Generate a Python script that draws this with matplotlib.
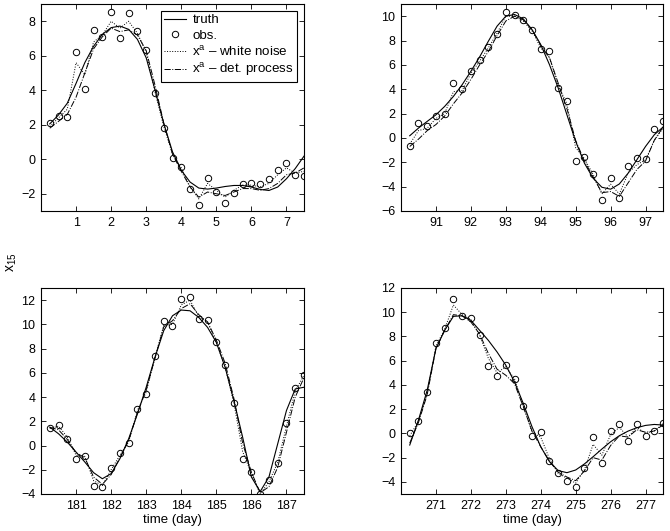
import numpy as np
import matplotlib
matplotlib.use("Agg")
import matplotlib.pyplot as plt

plt.rcParams['font.family'] = ['Liberation Sans', 'DejaVu Sans']
plt.rcParams['mathtext.fontset'] = 'custom'
plt.rcParams['mathtext.rm'] = 'Liberation Sans'
plt.rcParams['mathtext.it'] = 'Liberation Sans'

# ---- data (observation times every 0.25 day) ----
start_tl, start_tr, start_bl, start_br = 0.0, 90.0, 180.0, 270.0
xlim_span = 7.5

obs_tl = [2.10, 2.53, 2.47, 6.23, 4.09, 7.49, 7.10, 8.54, 7.02, 8.46, 7.41, 6.32, 3.83, 1.81, 0.10,
          -0.43, -1.73, -2.67, -1.09, -1.87, -2.53, -1.95, -1.42, -1.36, -1.42, -1.15, -0.62, -0.21, -0.89, -0.97]
truth_tl = [2.05, 2.57, 3.25, 4.40, 5.60, 6.55, 7.24, 7.63, 7.72, 7.53, 6.95, 5.88, 4.03, 2.08, 0.43,
            -0.64, -1.32, -1.67, -1.73, -1.67, -1.58, -1.52, -1.52, -1.61, -1.75, -1.81, -1.61, -1.13, -0.54, 0.18]
wn_tl = [1.90, 2.40, 2.90, 5.60, 4.90, 6.80, 7.20, 8.00, 7.60, 8.00, 7.30, 6.20, 3.90, 1.90, 0.30,
         -0.50, -1.60, -2.30, -1.40, -1.80, -2.20, -1.80, -1.50, -1.50, -1.60, -1.40, -0.90, -0.50, -0.80, -0.70]
dp_tl = [1.80, 2.20, 2.60, 3.60, 5.00, 6.40, 7.10, 7.60, 7.40, 7.50, 7.20, 6.30, 4.30, 2.10, 0.30,
         -0.70, -1.60, -2.20, -1.90, -2.00, -2.10, -1.90, -1.70, -1.70, -1.80, -1.70, -1.40, -0.90, -0.80, -0.50]

obs_tr = [-0.65, 1.22, 0.94, 1.79, 1.99, 4.51, 3.99, 5.47, 6.43, 7.48, 8.57, 10.33, 10.11, 9.70, 8.87,
          7.28, 7.12, 4.07, 3.03, -1.86, -1.55, -2.95, -5.09, -3.25, -4.96, -2.27, -1.61, -1.69, 0.72, 1.36]
truth_tr = [0.18, 0.81, 1.36, 1.90, 2.59, 3.41, 4.37, 5.47, 6.65, 7.94, 9.18, 10.00, 10.14, 9.78, 8.90,
            7.67, 6.02, 4.10, 1.90, -0.29, -2.07, -3.31, -4.05, -4.21, -3.78, -2.90, -1.80, -0.70, 0.26, 0.89]
wn_tr = [-0.50, 0.60, 0.80, 1.60, 2.00, 3.80, 3.90, 5.30, 6.30, 7.40, 8.60, 10.00, 10.00, 9.60, 8.80,
         7.40, 6.60, 4.30, 2.80, -0.80, -1.70, -3.00, -4.60, -3.80, -4.60, -2.90, -2.20, -1.80, -0.20, 0.80]
dp_tr = [-0.70, -0.10, 0.60, 1.10, 1.80, 2.80, 3.70, 4.80, 6.00, 7.10, 8.40, 9.60, 10.00, 9.70, 8.90,
         7.60, 6.60, 4.50, 2.40, -0.20, -1.90, -3.20, -4.50, -4.40, -4.80, -3.70, -2.60, -1.90, -0.20, 0.90]

obs_bl = [1.46, 1.68, 0.56, -1.09, -0.90, -3.31, -3.45, -1.89, -0.65, 0.20, 3.03, 4.26, 7.42, 10.24, 9.89,
          12.11, 12.25, 10.41, 10.35, 8.54, 6.62, 3.47, -1.14, -2.16, -4.00, -2.85, -1.45, 1.90, 4.73, 5.83]
truth_bl = [1.52, 0.97, 0.28, -0.54, -1.36, -2.24, -2.74, -2.32, -1.09, 0.56, 2.61, 4.81, 7.28, 9.48, 10.71,
            11.18, 11.12, 10.57, 9.75, 8.51, 6.46, 3.71, 0.69, -2.60, -3.80, -2.60, 0.14, 2.89, 4.67, 4.81]
wn_bl = [1.40, 1.60, 0.70, -0.80, -0.90, -2.90, -3.30, -2.00, -0.80, 0.30, 2.90, 4.40, 7.30, 9.90, 10.00,
         11.60, 12.00, 10.60, 10.20, 8.50, 6.50, 3.50, -0.50, -2.30, -4.00, -3.00, -1.40, 1.60, 4.50, 5.80]
dp_bl = [1.50, 1.30, 0.50, -0.60, -1.00, -2.60, -3.20, -2.40, -1.00, 0.40, 2.70, 4.60, 7.20, 9.80, 10.30,
         11.30, 11.70, 10.80, 10.20, 8.70, 6.80, 3.90, 0.20, -2.20, -3.90, -3.40, -1.80, 1.10, 4.00, 5.60]

obs_br = [0.03, 1.04, 3.38, 7.49, 8.70, 11.09, 9.71, 9.55, 8.15, 5.60, 4.75, 5.65, 4.53, 2.25, -0.19,
          0.08, -2.25, -3.27, -3.95, -4.45, -2.88, -0.30, -2.41, 0.19, 0.80, -0.60, 0.80, -0.22, 0.19, 0.85]
truth_br = [-0.96, 1.10, 3.57, 7.00, 8.51, 9.66, 9.71, 9.33, 8.51, 7.68, 6.72, 5.63, 4.25, 2.47, 0.55,
            -1.10, -2.33, -3.07, -3.24, -3.02, -2.52, -1.92, -1.29, -0.69, -0.19, 0.19, 0.47, 0.66, 0.74, 0.69]
wn_br = [-0.20, 1.00, 3.30, 7.20, 8.60, 10.60, 9.80, 9.40, 8.10, 6.20, 5.00, 5.50, 4.50, 2.30, 0.10,
         -0.30, -2.10, -3.30, -3.70, -4.10, -3.00, -0.90, -1.80, -0.10, 0.50, -0.30, 0.50, 0.00, 0.20, 0.80]
dp_br = [-0.80, 0.90, 3.20, 7.00, 8.50, 9.80, 9.70, 9.20, 8.20, 6.60, 5.30, 4.80, 4.10, 2.20, 0.20,
         -1.10, -2.30, -3.20, -3.60, -3.90, -3.10, -2.00, -2.20, -1.00, -0.20, -0.30, 0.30, 0.10, 0.20, 0.70]

panels = [
    dict(start=start_tl, obs=obs_tl, truth=truth_tl, wn=wn_tl, dp=dp_tl, ylim=(-3, 9),
         yticks=[-2, 0, 2, 4, 6, 8], xticks=[1, 2, 3, 4, 5, 6, 7]),
    dict(start=start_tr, obs=obs_tr, truth=truth_tr, wn=wn_tr, dp=dp_tr, ylim=(-6, 11),
         yticks=[-6, -4, -2, 0, 2, 4, 6, 8, 10], xticks=[91, 92, 93, 94, 95, 96, 97]),
    dict(start=start_bl, obs=obs_bl, truth=truth_bl, wn=wn_bl, dp=dp_bl, ylim=(-4, 13),
         yticks=[-4, -2, 0, 2, 4, 6, 8, 10, 12], xticks=[181, 182, 183, 184, 185, 186, 187]),
    dict(start=start_br, obs=obs_br, truth=truth_br, wn=wn_br, dp=dp_br, ylim=(-5, 12),
         yticks=[-4, -2, 0, 2, 4, 6, 8, 10, 12], xticks=[271, 272, 273, 274, 275, 276, 277]),
]

W, H = 670, 531
fig = plt.figure(figsize=(W / 100, H / 100), dpi=100)
rects = [
    (41, 4, 304, 211),
    (401, 4, 663, 211),
    (41, 288, 304, 494),
    (401, 288, 663, 494),
]

fs = 9
for i, (p, r) in enumerate(zip(panels, rects)):
    x0, y0, x1, y1 = r
    ax = fig.add_axes([x0 / W, 1 - y1 / H, (x1 - x0) / W, (y1 - y0) / H])
    t = p['start'] + 0.25 * np.arange(1, len(p['obs']) + 1)
    ax.plot(t, p['truth'], '-', color='black', lw=0.8, label='truth')
    ax.plot(t, p['obs'], 'o', mfc='none', mec='black', mew=0.7, ms=4.6, label='obs.')
    ax.plot(t, p['wn'], ':', color='black', lw=0.7, label=r'x$^{\mathregular{a}}$ – white noise')
    ax.plot(t, p['dp'], '-.', color='black', lw=0.7, label=r'x$^{\mathregular{a}}$ – det. process')
    ax.set_xlim(p['start'], p['start'] + xlim_span)
    ax.set_ylim(*p['ylim'])
    ax.set_xticks(p['xticks'])
    ax.set_yticks(p['yticks'])
    ax.tick_params(direction='in', top=True, right=True, length=3.5, width=0.6, labelsize=fs, pad=4)
    for s in ax.spines.values():
        s.set_linewidth(0.8)
    if i >= 2:
        ax.set_xlabel('time (day)', fontsize=fs + 0.5, labelpad=2)
    if i == 0:
        leg = ax.legend(loc='upper right', fontsize=fs + 0.6, frameon=True, fancybox=False,
                        edgecolor='black', framealpha=1, borderpad=0.25, labelspacing=0.22,
                        handlelength=1.6, handletextpad=0.5, borderaxespad=0.5)
        leg.get_frame().set_linewidth(0.8)

fig.text(12 / W, 1 - 262 / H, r'x$_{\mathregular{15}}$', fontsize=fs + 1, rotation=90,
         ha='center', va='center')

fig.savefig('out.png', dpi=100)
